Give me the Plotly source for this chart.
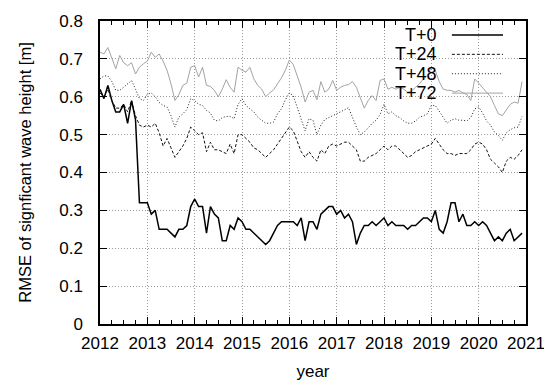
import plotly.graph_objects as go

# Monthly RMSE of significant wave height, Jan 2012 .. Dec 2020
start_year = 2012
n_months = 108

rmse_t0 = [
    0.62, 0.595, 0.63, 0.59, 0.56, 0.56, 0.58, 0.53, 0.59, 0.54, 0.32, 0.32,
    0.32, 0.29, 0.30, 0.25, 0.25, 0.25, 0.24, 0.23, 0.25, 0.25, 0.26, 0.31,
    0.33, 0.31, 0.31, 0.24, 0.31, 0.29, 0.28, 0.22, 0.22, 0.26, 0.25, 0.28,
    0.27, 0.25, 0.25, 0.24, 0.23, 0.22, 0.21, 0.22, 0.24, 0.26, 0.27, 0.27,
    0.27, 0.27, 0.26, 0.28, 0.22, 0.27, 0.27, 0.25, 0.29, 0.30, 0.31, 0.31,
    0.29, 0.30, 0.28, 0.29, 0.27, 0.21, 0.24, 0.26, 0.26, 0.27, 0.26, 0.27,
    0.28, 0.26, 0.27, 0.26, 0.26, 0.26, 0.25, 0.26, 0.26, 0.27, 0.28, 0.28,
    0.27, 0.30, 0.25, 0.24, 0.27, 0.32, 0.32, 0.27, 0.29, 0.26, 0.26, 0.27,
    0.26, 0.27, 0.26, 0.24, 0.22, 0.23, 0.22, 0.24, 0.25, 0.22, 0.23, 0.24,
]

rmse_t24 = [
    0.61, 0.60, 0.62, 0.59, 0.57, 0.57, 0.58, 0.56, 0.59, 0.55, 0.525, 0.52,
    0.525, 0.52, 0.53, 0.505, 0.47, 0.49, 0.465, 0.44, 0.455, 0.47, 0.49, 0.52,
    0.51, 0.50, 0.505, 0.455, 0.48, 0.46, 0.46, 0.455, 0.45, 0.475, 0.45, 0.50,
    0.50, 0.49, 0.48, 0.465, 0.46, 0.45, 0.44, 0.45, 0.46, 0.475, 0.49, 0.505,
    0.52, 0.51, 0.485, 0.455, 0.44, 0.455, 0.44, 0.43, 0.46, 0.45, 0.47, 0.475,
    0.47, 0.475, 0.48, 0.48, 0.47, 0.46, 0.43, 0.43, 0.44, 0.445, 0.45, 0.46,
    0.47, 0.46, 0.47, 0.47, 0.46, 0.45, 0.44, 0.445, 0.455, 0.46, 0.465, 0.47,
    0.475, 0.49, 0.475, 0.46, 0.45, 0.45, 0.445, 0.45, 0.45, 0.45, 0.46, 0.475,
    0.48, 0.475, 0.46, 0.435, 0.425, 0.415, 0.40, 0.43, 0.44, 0.435, 0.445, 0.46,
]

rmse_t48 = [
    0.647, 0.655, 0.655, 0.64, 0.617, 0.617, 0.625, 0.634, 0.643, 0.62, 0.595, 0.59,
    0.607, 0.61, 0.60, 0.585, 0.577, 0.573, 0.55, 0.52, 0.546, 0.555, 0.566, 0.595,
    0.59, 0.58, 0.577, 0.564, 0.557, 0.538, 0.536, 0.545, 0.548, 0.548, 0.542, 0.58,
    0.595, 0.577, 0.568, 0.56, 0.546, 0.538, 0.53, 0.53, 0.533, 0.555, 0.568, 0.592,
    0.61, 0.603, 0.57, 0.538, 0.51, 0.542, 0.538, 0.50, 0.525, 0.54, 0.546, 0.55,
    0.555, 0.56, 0.564, 0.571, 0.546, 0.52, 0.50, 0.507, 0.518, 0.53, 0.538, 0.553,
    0.58, 0.555, 0.56, 0.55, 0.545, 0.536, 0.53, 0.53, 0.536, 0.546, 0.55, 0.555,
    0.577, 0.577, 0.562, 0.545, 0.53, 0.538, 0.542, 0.538, 0.538, 0.536, 0.545, 0.568,
    0.573, 0.557, 0.536, 0.525, 0.507, 0.498, 0.485, 0.505, 0.513, 0.518, 0.52, 0.548,
]

rmse_t72 = [
    0.718, 0.713, 0.73, 0.70, 0.674, 0.709, 0.69, 0.682, 0.69, 0.66, 0.678, 0.687,
    0.694, 0.718, 0.704, 0.713, 0.694, 0.67, 0.634, 0.59, 0.606, 0.63, 0.636, 0.678,
    0.682, 0.652, 0.678, 0.63, 0.627, 0.617, 0.60, 0.62, 0.645, 0.625, 0.612, 0.678,
    0.67, 0.665, 0.678, 0.647, 0.63, 0.62, 0.60, 0.61, 0.618, 0.634, 0.65, 0.67,
    0.697, 0.685, 0.656, 0.625, 0.586, 0.612, 0.617, 0.592, 0.64, 0.612, 0.62, 0.643,
    0.617, 0.625, 0.63, 0.632, 0.64, 0.625, 0.597, 0.57, 0.59, 0.603, 0.59, 0.643,
    0.647, 0.62, 0.625, 0.62, 0.625, 0.62, 0.612, 0.615, 0.625, 0.634, 0.647, 0.656,
    0.678, 0.67, 0.64, 0.62, 0.617, 0.617, 0.612, 0.617, 0.61, 0.606, 0.59, 0.647,
    0.636, 0.624, 0.615, 0.60, 0.577, 0.555, 0.55, 0.564, 0.58, 0.586, 0.583, 0.64,
]

series_names = ["T+0", "T+24", "T+48", "T+72"]
year_ticks = list(range(2012, 2022))
rmse_ticks = [0, 0.1, 0.2, 0.3, 0.4, 0.5, 0.6, 0.7, 0.8]

months = [start_year + m / 12 for m in range(n_months)]

styles = {
    "T+0": dict(color="black", width=1.5, dash="solid"),
    "T+24": dict(color="#111111", width=1, dash="3px,2px"),
    "T+48": dict(color="#222222", width=1, dash="1px,2px"),
    "T+72": dict(color="#a3a3a3", width=1, dash="solid"),
}

FONT = "Liberation Sans, Arial, sans-serif"

fig = go.Figure()
for name, vals in zip(series_names, [rmse_t0, rmse_t24, rmse_t48, rmse_t72]):
    fig.add_trace(go.Scatter(x=months, y=vals, mode="lines", name=name,
                             line=styles[name], showlegend=False))

# key in the upper right: right-aligned labels followed by line samples
row_y = [0.954, 0.890, 0.826, 0.762]
for name, yy in zip(series_names, row_y):
    fig.add_annotation(x=0.795, y=yy, xref="paper", yref="paper", text=name,
                       showarrow=False, xanchor="right", yanchor="middle",
                       font=dict(family=FONT, size=18, color="black"))
    st = styles[name]
    fig.add_shape(type="line", xref="paper", yref="paper",
                  x0=0.826, x1=0.946, y0=yy, y1=yy,
                  line=dict(color=st["color"], width=st["width"], dash=st["dash"]))

axis_common = dict(
    showline=True, linecolor="black", linewidth=1.5, mirror="allticks",
    ticks="inside", ticklen=7, tickcolor="black", tickwidth=1,
    showgrid=True, gridcolor="#9a9a9a", griddash="1px,2px", gridwidth=1,
    zeroline=False, ticklabeloverflow="allow",
    tickfont=dict(family=FONT, size=17, color="black"),
)

fig.update_xaxes(
    range=[2012, 2021], tickvals=year_ticks, ticktext=[str(y) for y in year_ticks],
    minor=dict(ticks="inside", ticklen=4, dtick=0.25, tick0=2012,
               tickcolor="black", showgrid=False),
    ticklabelstandoff=3,
    title=dict(text="year", font=dict(family=FONT, size=17, color="black"), standoff=15),
    **axis_common,
)
fig.update_yaxes(
    range=[0, 0.8], tickvals=rmse_ticks, ticktext=[("%g" % v) for v in rmse_ticks],
    ticklabelstandoff=12,
    title=dict(text="RMSE of signficant wave height [m]",
               font=dict(family=FONT, size=16.5, color="black"), standoff=23),
    **axis_common,
)

fig.update_layout(
    width=544, height=381,
    margin=dict(l=100, r=18, t=21, b=57, autoexpand=False),
    paper_bgcolor="white", plot_bgcolor="white",
    font=dict(family=FONT, color="black"),
)

fig.write_html("out.html")
